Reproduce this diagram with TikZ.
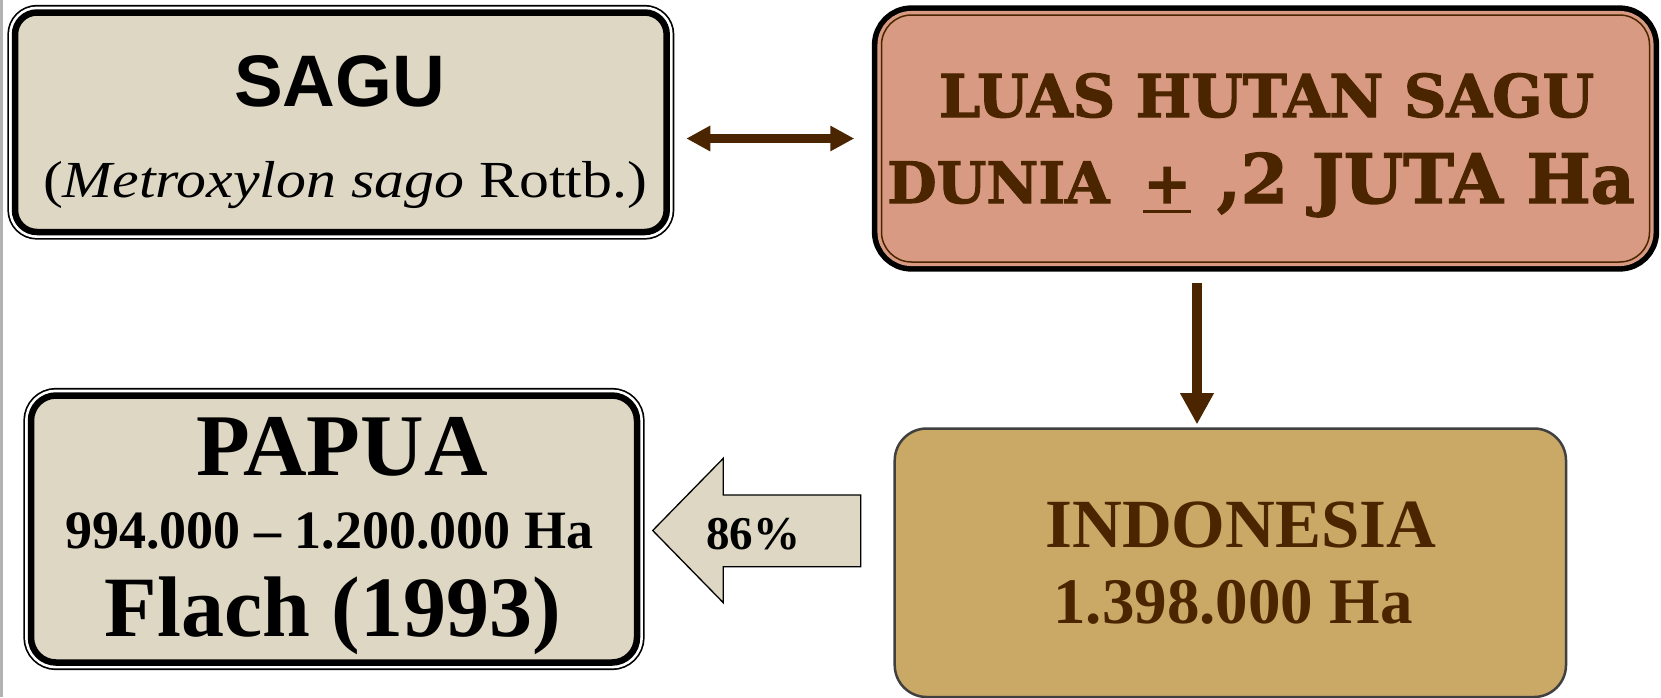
\documentclass[tikz,border=0pt]{standalone}
\usepackage{fontspec}
\setmainfont{Liberation Serif}
\newfontfamily\palafont[FakeStretch=1.15]{Liberation Serif}
\newfontfamily\slabfont[BoldFeatures={FakeBold=2}]{DejaVu Serif}
\newfontfamily\headfont{Liberation Sans}
\usetikzlibrary{arrows.meta}
\definecolor{beigec}{RGB}{221,215,196}
\definecolor{salmonc}{RGB}{216,154,130}
\definecolor{tanc}{RGB}{202,169,103}
\definecolor{brownc}{RGB}{74,37,0}
\definecolor{edgec}{RGB}{64,64,64}
\newcommand{\ulplus}{\setbox0\hbox{+}\rlap{\rule[-10pt]{\wd0}{2.6pt}}\box0}
\tikzset{
  beigebox/.style={rectangle,rounded corners=22pt,inner sep=0pt,fill=beigec,draw=black,line width=6.5pt,
    preaction={draw=black,line width=15.3pt},preaction={draw=white,line width=11.9pt}},
  luasbox/.style={rectangle,rounded corners=30pt,inner sep=0pt,fill=salmonc,draw=brownc,line width=1.5pt,
    preaction={draw=black,line width=19.3pt},preaction={draw=salmonc,line width=8.1pt}},
  indobox/.style={rectangle,rounded corners=32pt,inner sep=0pt,fill=tanc,draw=edgec,line width=2.5pt},
  txt/.style={anchor=base,inner sep=0pt},
  dbl/.style={{Triangle[length=24pt,width=24pt]}-{Triangle[length=24pt,width=24pt]},line width=9pt,brownc},
  drop/.style={-{Triangle[length=31.4pt,width=31.7pt]},line width=10.7pt,brownc},
}
\begin{document}
\begin{tikzpicture}[x=1pt,y=-1pt]
  \useasboundingbox (0,0) rectangle (1661,697);
  \draw[gray!60,line width=2.7pt] (1.35,0) -- (1.35,697);
  % boxes
  \node[beigebox,minimum width=651.7pt,minimum height=219.5pt] (sagu) at (340.85,122.25) {};
  \node[luasbox,minimum width=768pt,minimum height=247pt] (luas) at (1265.5,138.5) {};
  \node[indobox,minimum width=671.3pt,minimum height=268.5pt] (indo) at (1230.35,562.75) {};
  \node[beigebox,rounded corners=25pt,minimum width=606pt,minimum height=267pt] (papua) at (334,529) {};
  % texts
  \node[txt,font=\headfont\bfseries\fontsize{73}{80}\selectfont] (sagutitle) at (339.7,106) {SAGU};
  \node[txt,font=\palafont\fontsize{52}{60}\selectfont] (saguname) at (345,197) {(\textit{Metroxylon sago} Rottb.)};
  \node[txt,text=brownc,font=\slabfont\bfseries\fontsize{59}{66}\selectfont] (luasline) at (1266.5,117) {LUAS HUTAN SAGU};
  \node[txt,anchor=base west,text=brownc,font=\slabfont\bfseries\fontsize{57}{66}\selectfont] (luasvalue) at (887,203)
    {DUNIA\hspace{34pt}\ulplus\hspace{26pt}{\fontsize{68}{78}\selectfont,2 JUTA Ha}};
  \node[txt,font=\bfseries\fontsize{88}{96}\selectfont] (papuatitle) at (342,475) {PAPUA};
  \node[txt,font=\bfseries\fontsize{54}{60}\selectfont] (papuaarea) at (329,548) {994.000 – 1.200.000 Ha};
  \node[txt,font=\bfseries\fontsize{86}{94}\selectfont] (papuasource) at (333,636) {Flach (1993)};
  \node[txt,text=brownc,font=\bfseries\fontsize{69}{76}\selectfont] (indotitle) at (1241,547) {INDONESIA};
  \node[txt,text=brownc,font=\bfseries\fontsize{65}{72}\selectfont] (indoarea) at (1233,623) {1.398.000 Ha};
  % block arrow
  \draw[fill=beigec,line width=1.3pt] (652.7,530.5) -- (723.3,458.3) -- (723.3,495) -- (860.7,495)
    -- (860.7,566.7) -- (723.3,566.7) -- (723.3,602.7) -- cycle;
  \node[txt,font=\bfseries\fontsize{47}{52}\selectfont] (share) at (753.3,549) {86\%};
  % connectors
  \draw[dbl,shorten <=16.3pt,shorten >=26.5pt] (sagu.east |- luas.west) -- (luas.west);
  \coordinate (dropstart) at ([xshift=-68.5pt]luas.south);
  \draw[drop,shorten <=20.7pt,shorten >=2.8pt] (dropstart) -- (dropstart |- indo.north);
\end{tikzpicture}
\end{document}
